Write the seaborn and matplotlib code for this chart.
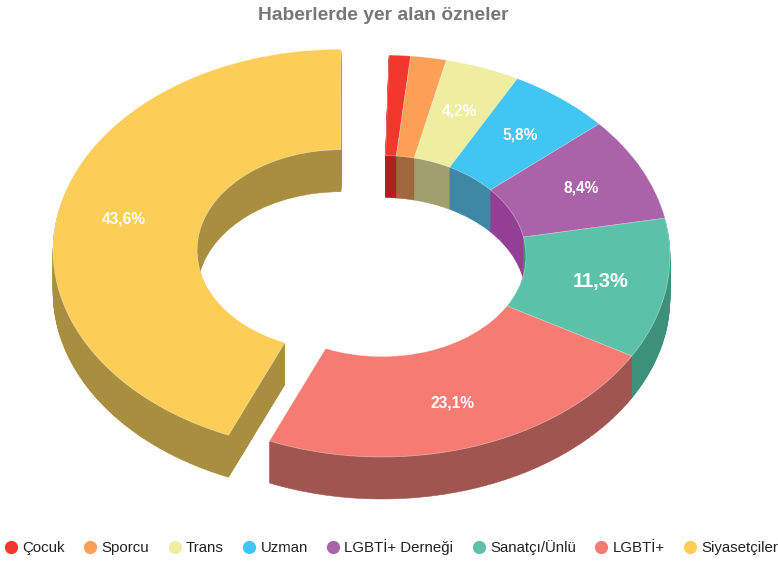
import matplotlib
matplotlib.use("Agg")
import matplotlib.pyplot as plt
from matplotlib.lines import Line2D
import seaborn as sns

sns.set_theme(style="white")
plt.rcParams["font.family"] = ["Liberation Sans", "DejaVu Sans"]

categories = ["Çocuk", "Sporcu", "Trans", "Uzman", "LGBTİ+ Derneği", "Sanatçı/Ünlü", "LGBTİ+", "Siyasetçiler"]
values = [1.2, 2.0, 4.2, 5.8, 8.4, 11.3, 23.1, 43.6]
explode = [0, 0, 0, 0, 0, 0, 0, 0.145]
top_colors = ["#F2382C", "#FBA055", "#EFEDA0", "#41C5F3", "#AA62A8", "#5BC2A8", "#F67C73", "#FCCE58"]
side_colors = ["#B11E20", "#A0693C", "#9F9F6F", "#3E88A5", "#943F95", "#3D917B", "#A15551", "#A88E3E"]

W, H = 778, 561
CX, CY, RX, RY, DEPTH = 382, 256, 288, 201, 42
START = 1.4

fig, ax = plt.subplots(figsize=(W / 100, H / 100), dpi=100)
fig.subplots_adjust(0, 0, 1, 1)
fig.patch.set_facecolor("white")

shares = [v / 100 for v in values]
common = dict(explode=explode, startangle=90 - START, counterclock=False, radius=1, normalize=False)

for k in range(DEPTH, 0, -1):
    side, _ = ax.pie(shares, colors=sns.color_palette(side_colors), center=(0, -k / RY),
                     wedgeprops=dict(width=0.5, linewidth=0.4), **common)
    for w, c in zip(side, side_colors):
        w.set_edgecolor(c)


def fmt(pct):
    return f"{pct:.1f}".replace(".", ",") + "%" if pct > 4 else ""


wedges, texts, autotexts = ax.pie(
    shares, colors=sns.color_palette(top_colors), autopct=fmt, pctdistance=0.77,
    wedgeprops=dict(width=0.5, linewidth=0.5, edgecolor=(1, 1, 1, 0.45)), **common)
for t in autotexts:
    t.set_color("white")
    t.set_fontweight("bold")
    t.set_fontsize(11.2)
    t.set_ha("center")
    t.set_va("center")
autotexts[5].set_fontsize(14.5)

ax.set_aspect("auto")
ax.set_xlim(-CX / RX, (W - CX) / RX)
ax.set_ylim((CY - H) / RY, CY / RY)
ax.set_axis_off()

fig.text(383 / W, 1 - 15.5 / H, "Haberlerde yer alan özneler", ha="center", va="center",
         color="#777777", fontweight="bold", fontsize=13.9)

handles = [Line2D([], [], linestyle="none", marker="o", markersize=9.5, markerfacecolor=c,
                  markeredgewidth=0) for c in top_colors]
fig.legend(handles, categories, loc="center", bbox_to_anchor=(391 / W, 1 - 547 / H), ncols=8,
           frameon=False, fontsize=10.8, labelcolor="#222222", handlelength=1.0, handletextpad=0.25,
           columnspacing=1.19, borderpad=0, borderaxespad=0)

fig.savefig("out.png", dpi=100, facecolor="white")
